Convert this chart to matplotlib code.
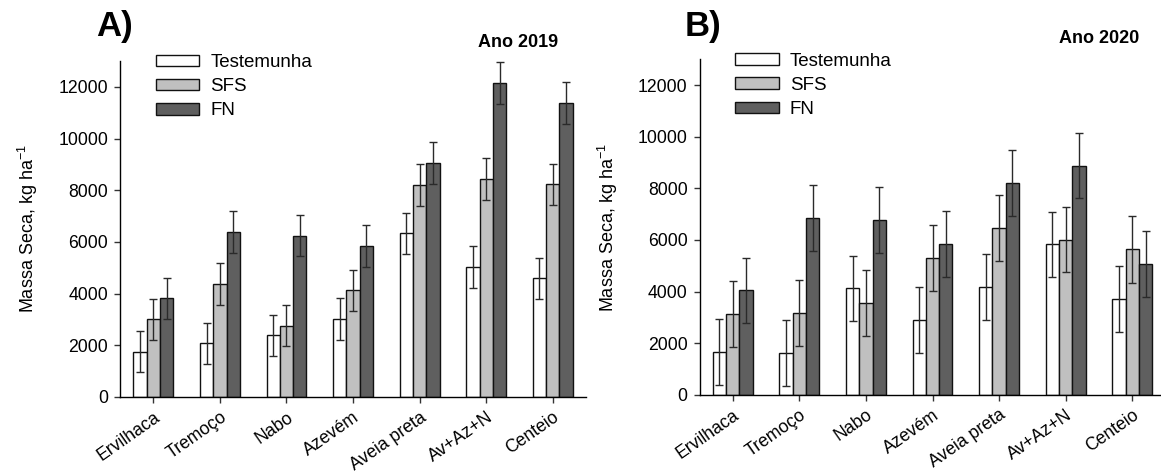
import matplotlib
matplotlib.use("Agg")
import matplotlib.pyplot as plt
import numpy as np

plt.rcParams["font.family"] = ["Liberation Sans", "DejaVu Sans"]
plt.rcParams["mathtext.fontset"] = "custom"
plt.rcParams["mathtext.rm"] = "Liberation Sans"
plt.rcParams["mathtext.it"] = "Liberation Sans:italic"

categories = ["Ervilhaca", "Tremoço", "Nabo", "Azevém", "Aveia preta", "Av+Az+N", "Centeio"]
series_names = ["Testemunha", "SFS", "FN"]

# Ano 2019
a_test = [1750, 2070, 2390, 3020, 6330, 5030, 4600]
a_sfs = [3000, 4370, 2760, 4130, 8190, 8430, 8230]
a_fn = [3820, 6400, 6240, 5830, 9050, 12150, 11380]
a_test_err = [800, 790, 800, 800, 800, 800, 790]
a_sfs_err = [790, 800, 800, 800, 810, 800, 800]
a_fn_err = [800, 810, 800, 810, 800, 810, 800]

# Ano 2020
b_test = [1660, 1610, 4120, 2890, 4170, 5830, 3720]
b_sfs = [3130, 3160, 3540, 5310, 6460, 6010, 5630]
b_fn = [4040, 6860, 6760, 5840, 8190, 8880, 5080]
b_test_err = [1270, 1280, 1270, 1280, 1290, 1270, 1280]
b_sfs_err = [1280, 1280, 1280, 1280, 1280, 1270, 1280]
b_fn_err = [1270, 1280, 1280, 1290, 1280, 1260, 1280]

colors = ["#ffffff", "#c0c0c0", "#5f5f5f"]

fig = plt.figure(figsize=(11.61, 4.73), dpi=100)
ax_a = fig.add_axes([0.1034, 0.1607, 0.4014, 0.7104])
ax_b = fig.add_axes([0.6025, 0.1655, 0.4014, 0.7090])


def draw_panel(ax, values, errors):
    x = np.arange(len(categories))
    width = 0.2
    for k, (vals, errs) in enumerate(zip(values, errors)):
        pos = x + (k - 1) * width
        ax.bar(pos, vals, width=width, color=colors[k], edgecolor="#111111",
               linewidth=1.0, label=series_names[k], zorder=2)
        ax.errorbar(pos, vals, yerr=errs, fmt="none", ecolor="#2a2a2a",
                    elinewidth=1.0, capsize=2.6, capthick=1.0, zorder=3)
    ax.set_xlim(-0.5, len(categories) - 0.5)
    ax.set_ylim(0, 13000)
    ax.set_yticks(range(0, 13000, 2000))
    ax.set_xticks(x)
    ax.set_xticklabels(categories, rotation=35, ha="right", rotation_mode="anchor")
    ax.tick_params(axis="both", labelsize=12.7, direction="out", length=4.5,
                   width=1.0, color="#333333", pad=4)
    ax.tick_params(axis="x", pad=4)
    for side in ("top", "right"):
        ax.spines[side].set_visible(False)
    for side in ("left", "bottom"):
        ax.spines[side].set_linewidth(1.0)
    ax.set_ylabel("Massa Seca, kg ha$^{\\mathregular{-1}}$", fontsize=13, labelpad=13)
    ax.legend(loc="upper left", bbox_to_anchor=(0.077, 1.02), frameon=False,
              fontsize=13.5, handlelength=2.3, handleheight=0.55, handletextpad=0.6,
              labelspacing=0.38, borderpad=0, borderaxespad=0)


draw_panel(ax_a, [a_test, a_sfs, a_fn], [a_test_err, a_sfs_err, a_fn_err])
draw_panel(ax_b, [b_test, b_sfs, b_fn], [b_test_err, b_sfs_err, b_fn_err])

fig.text(0.0830, 0.924, "A)", fontsize=25, fontweight="bold", ha="left", va="baseline")
fig.text(0.5895, 0.924, "B)", fontsize=25, fontweight="bold", ha="left", va="baseline")
fig.text(0.4466, 0.9006, "Ano 2019", fontsize=13, fontweight="bold", ha="center", va="baseline")
fig.text(0.9466, 0.909, "Ano 2020", fontsize=13, fontweight="bold", ha="center", va="baseline")

fig.savefig("out.png", dpi=100)
plt.close(fig)
